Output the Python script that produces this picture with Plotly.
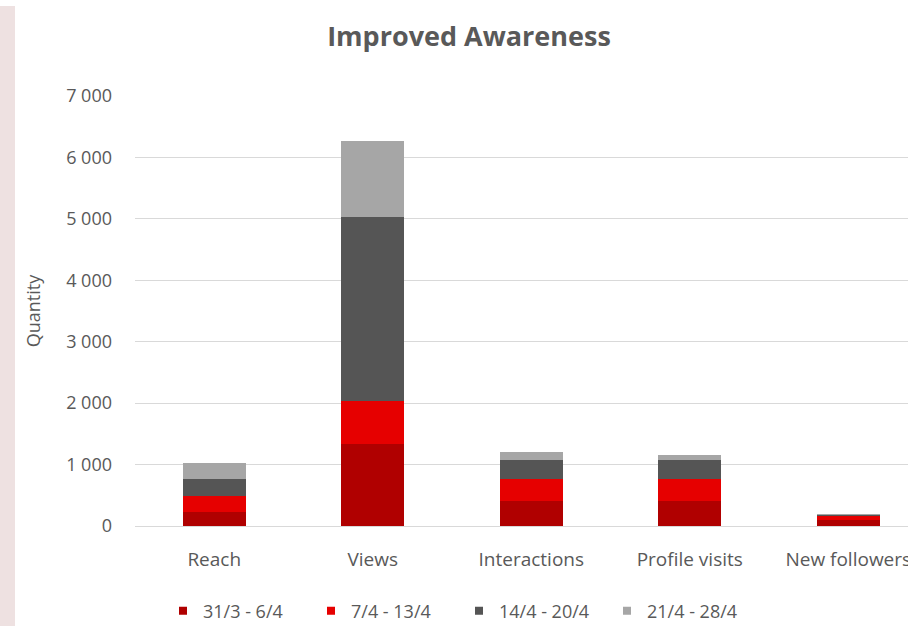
import plotly.graph_objects as go

categories = ["Reach", "Views", "Interactions", "Profile visits", "New followers"]
series_names = ["31/3 - 6/4", "7/4 - 13/4", "14/4 - 20/4", "21/4 - 28/4"]
week1 = [220, 1330, 407, 407, 95]
week2 = [275, 705, 353, 353, 70]
week3 = [270, 3000, 310, 310, 15]
week4 = [255, 1237, 130, 91, 10]
series_values = [week1, week2, week3, week4]
colors = ["#B00000", "#E60000", "#555555", "#A6A6A6"]
y_ticks = [0, 1000, 2000, 3000, 4000, 5000, 6000, 7000]

W, H = 908, 626
ml, mr, mt, mb = 135, 0, 96, 100
pw, ph = W - ml - mr, H - mt - mb

fig = go.Figure()
for name, vals, col in zip(series_names, series_values, colors):
    fig.add_trace(go.Bar(x=categories, y=vals, name=name, marker_color=col,
                         marker_line_width=0, showlegend=False, width=0.4))
for name, col in zip(series_names, colors):
    fig.add_trace(go.Scatter(x=[None], y=[None], mode="markers", name=name,
                             marker=dict(symbol="square", size=8, color=col)))

font = "Open Sans, Arial, sans-serif"
grey = "#595959"

# pink strip on the left
fig.add_shape(type="rect", xref="paper", yref="paper",
              x0=-ml / pw, x1=(15 - ml) / pw, y0=-mb / ph, y1=(H - mb - 6) / ph,
              fillcolor="#EEE1E1", line_width=0, layer="below")

fig.update_layout(
    width=W, height=H,
    margin=dict(l=ml, r=mr, t=mt, b=mb, autoexpand=False),
    paper_bgcolor="white", plot_bgcolor="white",
    barmode="stack",
    separators=". ",
    font=dict(family=font, color=grey, size=18),
    title=dict(text="<b>Improved Awareness</b>", x=(469) / W, xanchor="center",
               y=1 - 37 / H, yanchor="middle", yref="container",
               font=dict(size=27, color=grey, family=font)),
    xaxis=dict(range=[-0.5, -0.5 + pw / 158.5], showgrid=False, showline=False,
               ticks="", tickfont=dict(size=19, color=grey), ticklabelstandoff=20,
               fixedrange=True),
    yaxis=dict(range=[0, 7000], tickvals=y_ticks, tickformat=",d",
               showgrid=True, gridcolor="#D9D9D9", gridwidth=1,
               zeroline=True, zerolinecolor="#D9D9D9", zerolinewidth=1,
               showline=False, ticks="", ticklabelstandoff=22,
               tickfont=dict(size=18, color=grey),
               title=dict(text="Quantity", standoff=20, font=dict(size=18, color=grey))),
    legend=dict(orientation="h", x=(163 - ml) / pw, xanchor="left",
                y=-(611 - 526) / ph, yanchor="middle", traceorder="normal",
                entrywidth=103, entrywidthmode="pixels",
                itemwidth=30, font=dict(size=18, color=grey),
                bgcolor="rgba(0,0,0,0)", tracegroupgap=0),
    bargap=0.6,
)

fig.write_html("out.html")
